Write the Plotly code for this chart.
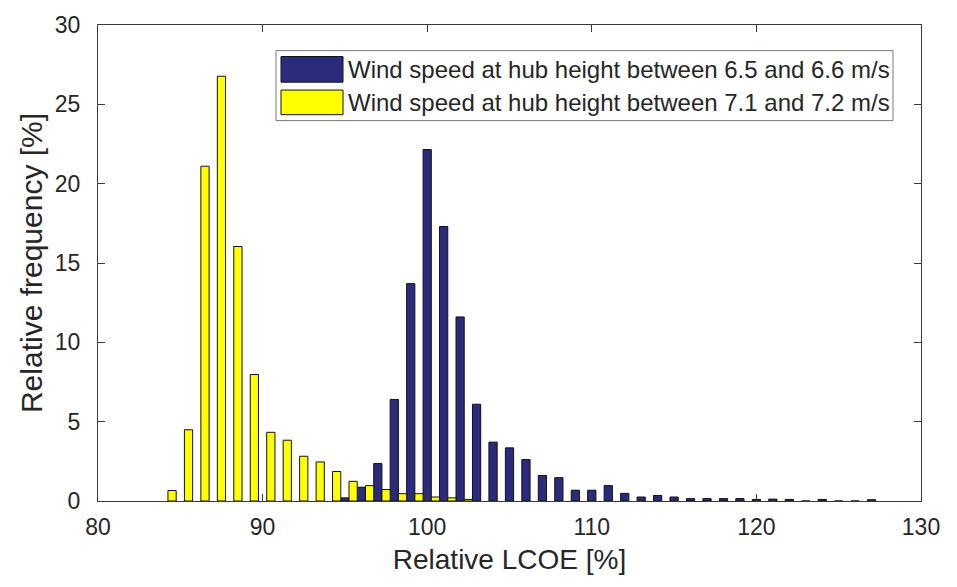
import plotly.graph_objects as go

# Relative LCOE histogram bins (percent) and relative frequencies (percent)
lcoe_low_wind = [95, 96, 97, 98, 99, 100, 101, 102, 103, 104, 105, 106, 107, 108,
                 109, 110, 111, 112, 113, 114, 115, 116, 117, 118, 119, 120, 121,
                 122, 123, 124, 125, 126, 127]
freq_low_wind = [0.2, 0.87, 2.36, 6.4, 13.7, 22.15, 17.3, 11.6, 6.1, 3.71, 3.35, 2.61,
                 1.61, 1.47, 0.68, 0.68, 0.97, 0.48, 0.25, 0.35, 0.25, 0.15, 0.15, 0.15,
                 0.15, 0.1, 0.12, 0.1, 0.0, 0.1, 0.0, 0.0, 0.08]

lcoe_high_wind = [84.5, 85.5, 86.5, 87.5, 88.5, 89.5, 90.5, 91.5, 92.5, 93.5, 94.5,
                  95.5, 96.5, 97.5, 98.5, 99.5, 100.5, 101.5, 102.5]
freq_high_wind = [0.66, 4.49, 21.1, 26.77, 16.04, 7.97, 4.33, 3.83, 2.82, 2.46, 1.86,
                  1.24, 0.97, 0.72, 0.46, 0.46, 0.25, 0.2, 0.1]

series_names = ["Wind speed at hub height between 6.5 and 6.6 m/s",
                "Wind speed at hub height between 7.1 and 7.2 m/s"]
series_colors = ["#2b2b7d", "#ffff00"]

x_ticks = [80, 90, 100, 110, 120, 130]
y_ticks = [0, 5, 10, 15, 20, 25, 30]

W, H = 957, 587
L, R, T, B = 98, 36, 18, 86
PW, PH = W - L - R, H - T - B

FONT = "Liberation Sans, Arial, Helvetica, sans-serif"
INK = "#262626"
FRAME = "#3a3a3a"


def px_x(p):
    return (p - L) / PW


def px_y(p):
    return (H - B - p) / PH


fig = go.Figure()
for xs, ys, col, name in [(lcoe_low_wind, freq_low_wind, series_colors[0], series_names[0]),
                          (lcoe_high_wind, freq_high_wind, series_colors[1], series_names[1])]:
    fig.add_trace(go.Bar(x=xs, y=ys, width=0.5, name=name, showlegend=False,
                         marker=dict(color=col, line=dict(color="#111111", width=1))))

# legend box drawn as shapes with wide swatches
shapes = [dict(type="rect", xref="paper", yref="paper",
               x0=px_x(276), x1=px_x(893), y0=px_y(115), y1=px_y(44),
               line=dict(color="#7a7a7a", width=1), fillcolor="white", layer="above")]
annotations = []
rows = [(50, 76), (84, 109)]
for (y0, y1), col, name in zip(rows, series_colors, series_names):
    shapes.append(dict(type="rect", xref="paper", yref="paper",
                       x0=px_x(281), x1=px_x(343), y0=px_y(y1), y1=px_y(y0),
                       line=dict(color="#111111", width=1), fillcolor=col, layer="above"))
    annotations.append(dict(xref="paper", yref="paper", x=px_x(346), y=px_y((y0 + y1) / 2),
                            xanchor="left", yanchor="middle", showarrow=False, text=name,
                            font=dict(family=FONT, size=24, color=INK)))

fig.update_layout(
    width=W, height=H,
    margin=dict(l=L, r=R, t=T, b=B),
    paper_bgcolor="white", plot_bgcolor="white",
    barmode="overlay",
    shapes=shapes, annotations=annotations,
    font=dict(family=FONT, size=23, color=INK),
)
fig.update_xaxes(range=[80, 130], tickvals=x_ticks, ticks="inside", ticklen=7,
                 tickcolor=FRAME, showline=True, linecolor=FRAME, linewidth=1, mirror="ticks",
                 showgrid=False, zeroline=False, ticklabelstandoff=5,
                 tickfont=dict(family=FONT, size=23, color=INK),
                 title=dict(text="Relative LCOE [%]", standoff=10,
                            font=dict(family=FONT, size=28, color=INK)))
fig.update_yaxes(range=[0, 30], tickvals=y_ticks, ticks="inside", ticklen=7,
                 tickcolor=FRAME, showline=True, linecolor=FRAME, linewidth=1, mirror="ticks",
                 showgrid=False, zeroline=False, ticklabelstandoff=12,
                 tickfont=dict(family=FONT, size=23, color=INK),
                 title=dict(text="Relative frequency [%]", standoff=3,
                            font=dict(family=FONT, size=30, color=INK)))

fig.write_html("out.html")
